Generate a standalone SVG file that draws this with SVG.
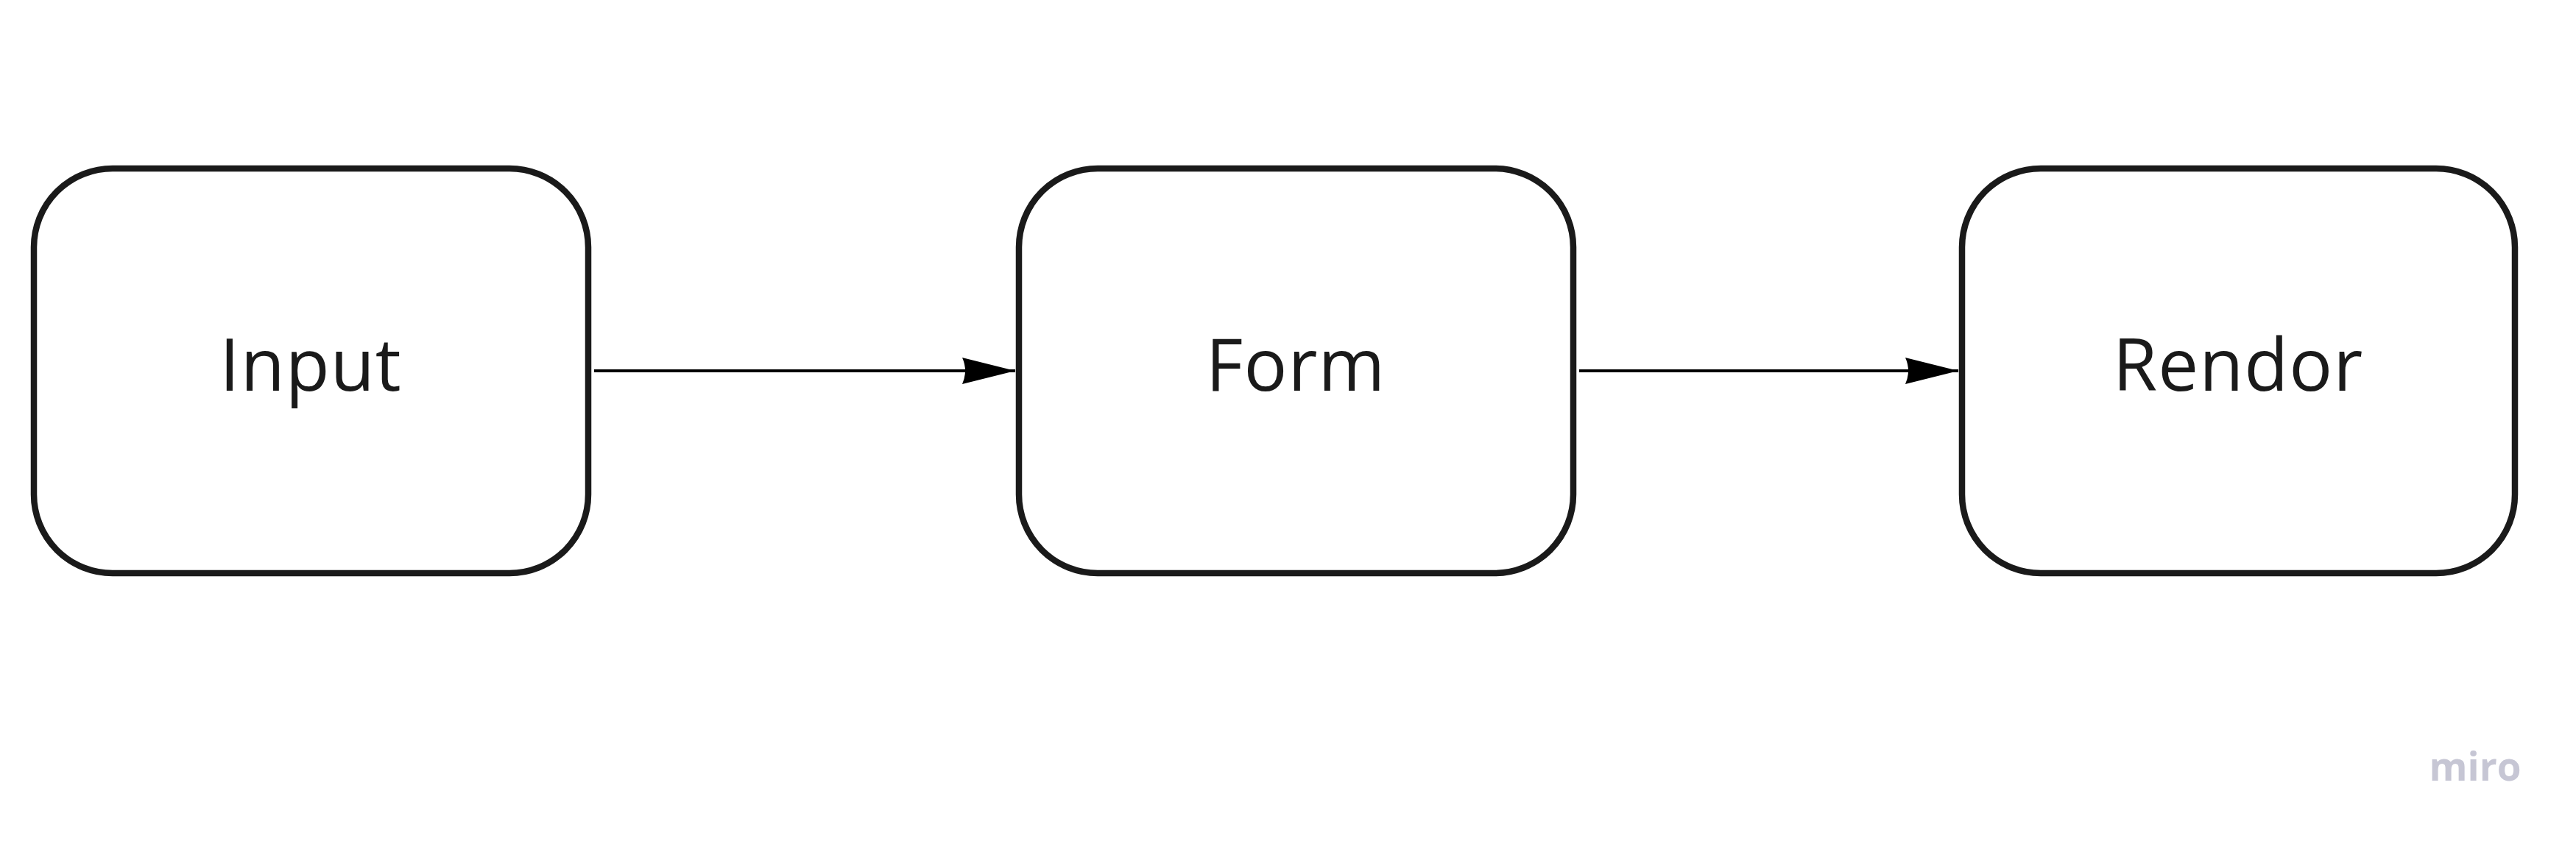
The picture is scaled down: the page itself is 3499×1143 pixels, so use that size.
<svg xmlns="http://www.w3.org/2000/svg" width="3499" height="1143" viewBox="0 0 3499 1143">
<style>
.box{fill:#ffffff;stroke:#1a1a1a;stroke-width:8.5}
.lbl{font-family:"Open Sans","Liberation Sans",sans-serif;font-size:98px;fill:#1a1a1a;text-anchor:middle;letter-spacing:1px}
.edge{stroke:#000;stroke-width:4;fill:none}
.logo{font-family:"Open Sans","Liberation Sans",sans-serif;font-size:53px;font-weight:700;fill:#c6c6d4;text-anchor:middle}
</style>
<defs>
<marker id="ah" markerUnits="userSpaceOnUse" markerWidth="72" markerHeight="36" viewBox="0 0 72 36" refX="72" refY="18" orient="auto">
<path d="M0,0 L72,18 L0,36 Q8,18 0,0 Z" fill="#000"/>
</marker>
</defs>
<rect width="3499" height="1143" fill="#ffffff"/>
<g id="edges">
<line class="edge" x1="807" y1="504" x2="1379" y2="504" marker-end="url(#ah)"/>
<line class="edge" x1="2145" y1="504" x2="2660" y2="504" marker-end="url(#ah)"/>
</g>
<g id="node-input">
<rect class="box" x="46" y="229" width="753" height="550" rx="107" ry="107"/>
<text class="lbl" x="422" y="531">Input</text>
</g>
<g id="node-form">
<rect class="box" x="1384" y="229" width="753" height="550" rx="107" ry="107"/>
<text class="lbl" x="1760" y="531">Form</text>
</g>
<g id="node-render">
<rect class="box" x="2665" y="229" width="751" height="550" rx="107" ry="107"/>
<text class="lbl" x="3040" y="531">Rendor</text>
</g>
<text class="logo" x="3362" y="1061">miro</text>
</svg>
